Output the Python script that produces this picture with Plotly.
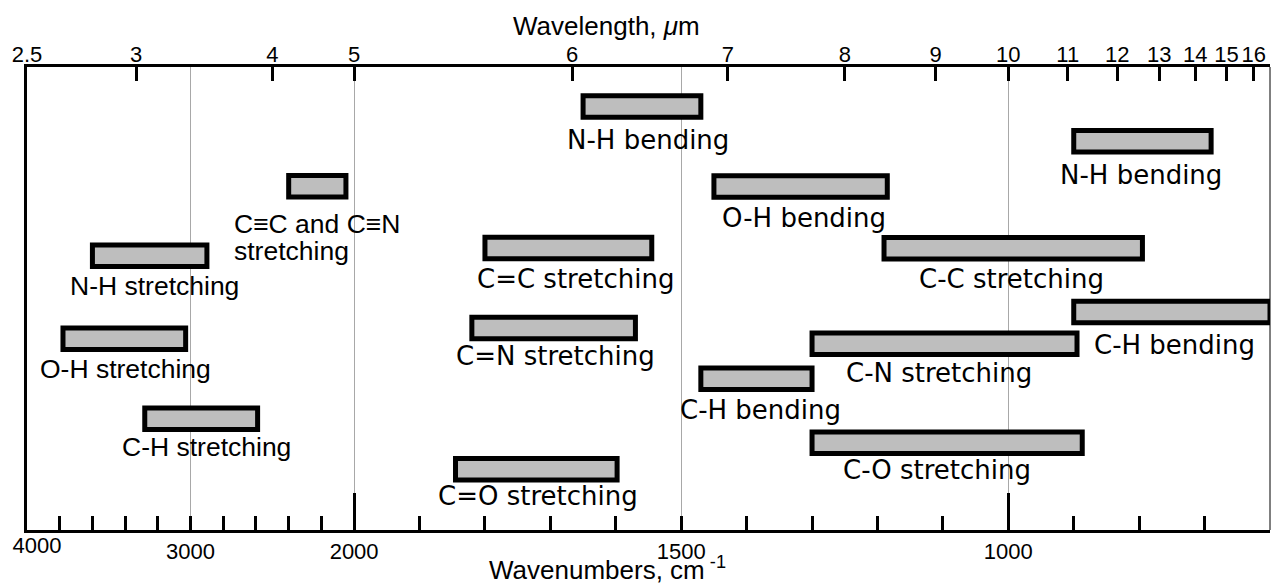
import plotly.graph_objects as go

# ---------------- data (wavenumbers, cm-1) ----------------
labels = ["N-H bending", "N-H bending", "C≡C and C≡N stretching", "O-H bending",
          "N-H stretching", "C=C stretching", "C-C stretching", "O-H stretching",
          "C=N stretching", "C-H bending", "C-N stretching", "C-H bending",
          "C-H stretching", "C-O stretching", "C=O stretching"]
wn_high = [1650, 900, 2400, 1450, 3600, 1800, 1190, 3780, 1820, 900, 1300, 1470, 3280, 1300, 1845]
wn_low = [1470, 690, 2050, 1185, 2900, 1545, 795, 3030, 1570, 600, 895, 1300, 2590, 887, 1598]

bottom_ticks = [4000, 3800, 3600, 3400, 3200, 3000, 2800, 2600, 2400, 2200, 2000,
                1900, 1800, 1700, 1600, 1500, 1400, 1300, 1200, 1100, 1000, 900, 800, 700]
bottom_labelled = [3000, 2000, 1500, 1000]
edge_label = 4000
long_ticks = [2000, 1000]
grid_lines = [3000, 2000, 1500, 1000]
top_ticks_um = [2.5, 3, 4, 5, 6, 7, 8, 9, 10, 11, 12, 13, 14, 15, 16]
top_tick_text = ["2.5", "3", "4", "5", "6", "7", "8", "9", "10", "11", "12", "13", "14", "15", "16"]
wn_min, wn_max = 600, 4000

# ---------------- layout (positions / styles) ----------------
TOP_PX = 67           # top edge of plot area (px)
PLOT_H = 463          # plot area height (px); y axis is in px below the top edge
row_y = [39.5, 74.3, 119.3, 119.5, 188.8, 181, 181.3, 271.7, 261, 245, 276.8, 311.7, 351.7, 375.7, 402.2]
label_baseline = [149, 184.3, None, 226.7, 295, 287.7, 287.7, 378.3, 365, 354.3,
                  381.7, 419.3, 456, 479.3, 505]
label_dx = [6, -1, 0, 3, 4.5, 7.5, -2, 1, 1.5, 3, -5.7, 4, 5, -10, 1.5]
two_line_baselines = [233.3, 260]
helv_idx = {2, 4, 7, 12}
LUCIDA = "DejaVu Sans"
HELV = "Liberation Sans, Arial, sans-serif"
LAB_LUC = 26
LAB_HELV = 26.5
TICK_FS = 22
TITLE_FS = 26
BAR_H = 21.5


def wn_to_u(w):
    """Piecewise linear wavenumber scale (2000-4000 compressed 4x)."""
    return (4000 - w) / 4.0 if w >= 2000 else 500 + (2000 - w)


def base_to_y(b, fs):
    return b - 0.346 * fs - TOP_PX


u_range = [wn_to_u(wn_max), wn_to_u(wn_min)]

fig = go.Figure()

bases = [wn_to_u(h) for h in wn_high]
lengths = [wn_to_u(l) - wn_to_u(h) for h, l in zip(wn_high, wn_low)]
fig.add_trace(go.Bar(
    orientation="h", y=row_y, base=bases, x=lengths, width=BAR_H,
    marker=dict(color="#bebebe", line=dict(color="black", width=5)),
    hoverinfo="skip", showlegend=False))

for ax in ["x2", "x3", "x4", "x5"]:
    fig.add_trace(go.Scatter(x=u_range, y=[0, 0], xaxis=ax, yaxis="y", mode="none",
                             showlegend=False, hoverinfo="skip"))

# labels
annotations = []
for i, txt in enumerate(labels):
    cu = (wn_to_u(wn_high[i]) + wn_to_u(wn_low[i])) / 2.0
    if i == 2:
        for line, b in zip(("C≡C and C≡N", "stretching"), two_line_baselines):
            annotations.append(dict(x=wn_to_u(wn_high[i]), y=base_to_y(b, LAB_HELV), xref="x",
                                    yref="y", text=line, showarrow=False, xanchor="left",
                                    yanchor="middle", xshift=-55, borderpad=0, borderwidth=0,
                                    font=dict(family=HELV, size=LAB_HELV, color="black")))
        continue
    fam, fs = (HELV, LAB_HELV) if i in helv_idx else (LUCIDA, LAB_LUC)
    annotations.append(dict(x=cu, y=base_to_y(label_baseline[i], fs), xref="x", yref="y", text=txt,
                            showarrow=False, xanchor="center", yanchor="middle",
                            xshift=label_dx[i], borderpad=0, borderwidth=0,
                            font=dict(family=fam, size=fs, color="black")))

annotations.append(dict(x=(606 - 27) / 1243, y=1 + (TOP_PX - 26) / PLOT_H, xref="paper", yref="paper",
                        text="Wavelength, <i>μ</i>m", showarrow=False, xanchor="center",
                        yanchor="middle", borderpad=0, borderwidth=0,
                        font=dict(family=HELV, size=TITLE_FS, color="black")))
annotations.append(dict(x=(607 - 27) / 1243, y=-(585 - 530) / PLOT_H, xref="paper", yref="paper",
                        text="Wavenumbers, cm<sup> -1</sup>", showarrow=False, xanchor="center",
                        yanchor="bottom", borderpad=0, borderwidth=0,
                        font=dict(family=HELV, size=TITLE_FS, color="black")))

bottom_text = [str(t) if t in bottom_labelled else " " for t in bottom_ticks]

common = dict(range=u_range, zeroline=False, fixedrange=True, automargin=False, tickangle=0)
tickfont = dict(family=HELV, size=TICK_FS, color="black")

fig.update_layout(
    width=1272, height=585,
    margin=dict(l=27, r=2, t=TOP_PX, b=585 - TOP_PX - PLOT_H, pad=0, autoexpand=False),
    paper_bgcolor="white", plot_bgcolor="white",
    barmode="overlay",
    showlegend=False,
    xaxis=dict(**common, tickmode="array", tickvals=[wn_to_u(t) for t in bottom_ticks],
               ticktext=bottom_text, ticks="inside", ticklen=14, tickwidth=2.5,
               tickcolor="black", showline=True, linewidth=3, linecolor="black",
               showgrid=False, ticklabeloverflow="allow", tickfont=tickfont),
    xaxis2=dict(**common, overlaying="x", side="top", anchor="y", tickmode="array",
                tickvals=[wn_to_u(10000.0 / um) for um in top_ticks_um], ticktext=top_tick_text,
                ticks="inside", ticklen=14, tickwidth=2.5, tickcolor="black",
                showline=True, linewidth=3, linecolor="black", showgrid=False,
                ticklabelstandoff=-7, ticklabeloverflow="allow", tickfont=tickfont),
    xaxis3=dict(**common, overlaying="x", side="bottom", anchor="y", tickmode="array",
                tickvals=[wn_to_u(t) for t in long_ticks], ticks="inside", ticklen=37,
                tickwidth=2.5, tickcolor="black", showticklabels=False, showline=False,
                showgrid=False),
    xaxis4=dict(**common, overlaying="x", side="bottom", anchor="y", tickmode="array",
                tickvals=[wn_to_u(t) for t in grid_lines], ticks="", showticklabels=False,
                showline=False, showgrid=True, gridcolor="#a8a8a8", gridwidth=1),
    xaxis5=dict(**common, overlaying="x", side="bottom", anchor="y", tickmode="array",
                tickvals=[wn_to_u(edge_label)], ticktext=[str(edge_label)], ticks="inside",
                ticklen=14, tickwidth=2.5, tickcolor="black", ticklabelshift=10,
                ticklabeloverflow="allow", showline=False, showgrid=False, tickfont=tickfont),
    yaxis=dict(range=[PLOT_H, 0], showline=True, linewidth=3, linecolor="black",
               showgrid=False, zeroline=False, showticklabels=False, ticks="",
               fixedrange=True, automargin=False),
    annotations=annotations,
    shapes=[dict(type="line", xref="paper", yref="paper", x0=1, x1=1, y0=0, y1=1,
                 line=dict(color="black", width=1))],
)

fig.write_html("out.html", config={"displayModeBar": False},
               post_script="document.body.style.margin='0';document.body.style.overflow='hidden';")
